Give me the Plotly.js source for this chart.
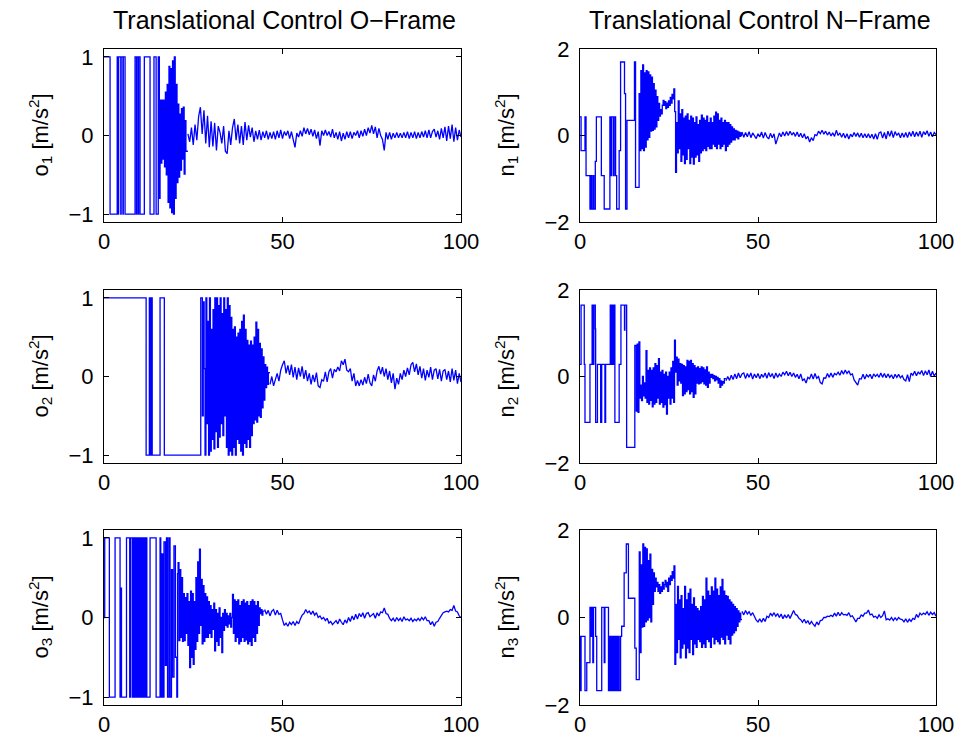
<!DOCTYPE html>
<html>
<head>
<meta charset="utf-8">
<script src="https://cdn.plot.ly/plotly-3.0.1.min.js"></script>
<style>
html,body{margin:0;padding:0;background:#fff;}
#chart{width:959px;height:743px;}
</style>
</head>
<body>
<div id="chart"></div>
<script>
// ---------- DATA ----------
const OSC_DT = 0.25;   // sample spacing of the oscillating section (s)
const TAIL_DT = 0.5;   // sample spacing of the settled section (s)

// o1
const o1StepT = [0,1.7,3.7,4.0,4.1,4.7,4.8,5.3,5.4,5.9,8.7,9.1,9.2,9.6,9.7,10.1,11.3,12.9,14.0,14.6,15.2,15.5];
const o1StepV = [1,-1,1,-1,1,-1,1,-1,1,-1,1,-1,1,-1,1,-1,1,-1,1,-1,1,-0.8];
const o1OscStart = 15.7;
const o1Osc = [0.45,-0.35,0.45,-0.3,0.45,-0.4,0.55,-0.5,0.65,-0.85,0.88,-0.92,0.85,-0.98,0.95,-1.0,1.0,-0.8,0.65,-0.6,0.4,-0.53,0.27,-0.44,0.34,-0.3,0.36,-0.49,0.19,-0.2];
const o1TailStart = 23.5;
const o1Tail = [0.02,-0.08,0.1,-0.12,0.14,-0.06,0.24,0.36,0.02,0.32,
 -0.1,0.25,-0.15,0.18,-0.14,0.16,-0.19,0.12,0.04,-0.1,
 0.12,-0.2,-0.23,0.06,-0.12,0.1,0.21,-0.06,0.14,-0.1,
 0.12,-0.12,0.17,-0.06,0.13,-0.02,0.1,-0.08,0.06,-0.05,
 0.07,-0.06,0.05,-0.03,0.06,-0.05,0.04,-0.04,0.05,-0.05,
 0.06,-0.03,0.07,-0.04,0.05,0.0,0.06,-0.04,0.05,-0.06,
 -0.15,0.03,-0.02,0.06,-0.01,0.1,0.02,0.09,0.01,0.08,
 -0.01,0.07,-0.04,0.05,-0.13,0.06,0.0,0.07,0.0,0.05,
 -0.02,0.08,-0.03,0.04,-0.05,0.05,-0.07,0.03,-0.05,0.05,
 -0.03,0.05,-0.04,0.04,0.0,0.06,-0.03,0.06,-0.01,0.08,
 0.0,0.1,0.03,0.13,0.02,0.11,-0.03,0.09,0.0,-0.05,
 -0.19,0.04,-0.05,0.04,-0.05,0.03,-0.03,0.04,-0.03,0.03,
 -0.03,0.04,-0.03,0.05,-0.04,0.04,-0.03,0.05,-0.04,0.04,
 -0.03,0.05,-0.02,0.06,-0.03,0.07,-0.03,0.05,0.08,-0.02,
 0.06,-0.05,0.09,-0.03,0.11,-0.07,0.12,-0.04,0.14,-0.08,
 0.1,-0.06,0.07,-0.02];

// n1
const n1StepT = [0,0.3,1.4,1.7,2.8,3.1,3.3,3.7,3.9,4.3,4.6,6.0,6.8,8.4,8.7,8.9,9.4,9.6,10.0,10.3,11.0,11.4,12.5,12.8,13.2,15.3,15.6];
const n1StepV = [0.43,-0.35,0.43,-0.93,-1.7,-0.93,-1.7,-0.93,-1.7,-0.6,0.43,-0.93,-1.7,0.43,-0.93,0.43,-0.93,0.43,-0.93,-1.7,-0.35,1.7,0.97,-1.7,0.35,1.7,-1.2];
const n1OscStart = 16.6;
const n1Osc = [0.97,-0.35,1.5,-0.3, 1.63,-0.35,1.45,-0.27, 1.5,-0.1,1.47,-0.04, 1.4,0.1,1.35,0.12,
 1.2,0.15,1.05,0.2, 0.9,0.35,0.74,0.45, 0.6,0.5,0.7,0.81, 0.7,0.78,0.62,0.75,
 0.65,0.8,0.7,0.88, 0.75,0.95,0.85,1.08, 0.55,-0.85,0.3,-0.4, 0.8,-0.3,0.5,-0.6,
 0.6,-0.45,0.4,-0.65, 0.45,-0.55,0.5,-0.3, 0.35,-0.65,0.45,-0.5, 0.4,-0.66,0.3,-0.5,
 0.43,-0.45,0.25,-0.6, 0.35,-0.4,0.47,-0.35, 0.4,-0.3,0.35,-0.35, 0.45,-0.25,0.3,-0.3,
 0.4,-0.3,0.3,-0.2, 0.45,-0.25,0.54,-0.3, 0.5,-0.2,0.35,-0.3, 0.4,-0.25,0.3,-0.2,
 0.35,-0.35,0.3,-0.25, 0.3,-0.2,0.25,-0.15, 0.2,-0.1,0.15,-0.1, 0.12,-0.05,0.1,-0.08,
 0.08,-0.02,0.06,0.0];
const n1TailStart = 45.5;
const n1Tail = [0.08,-0.04,0.07,-0.03,0.09,-0.05,0.06,-0.02,-0.07,0.04,
 -0.03,0.08,-0.06,0.07,-0.03,-0.08,0.05,-0.05,0.04,-0.2,
 -0.06,0.06,-0.03,0.08,-0.01,0.09,0.0,0.1,0.01,0.07,
 -0.02,0.08,-0.03,0.05,-0.05,0.04,-0.08,-0.02,-0.15,-0.05,
 -0.12,0.02,0.0,0.1,0.04,0.12,0.03,0.1,0.01,0.08,
 -0.01,0.06,-0.02,0.12,0.0,0.06,-0.04,0.05,-0.06,0.04,
 -0.08,0.03,-0.03,0.07,-0.02,0.06,-0.04,0.05,-0.05,0.04,
 -0.05,0.04,-0.06,0.03,-0.08,0.04,-0.09,0.06,0.08,-0.06,
 0.07,-0.08,0.1,-0.02,0.11,-0.05,0.09,0.0,0.06,-0.05,
 0.06,-0.04,0.07,-0.05,0.08,-0.02,0.1,-0.03,0.08,-0.02,
 0.1,-0.04,0.09,0.02,0.11,-0.02,0.08,-0.03,0.07,0.02];

// o2
const o2StepT = [0,11.8,12.7,13.0,13.3,13.5,15.7,16.9,27.1];
const o2StepV = [1,-1,1,-1,1,-1,1,-1,1];
const o2OscStart = 27.3;
const o2Osc = [1.0,-0.5,0.95,0.1, -1.0,1.0,-0.6,0.7, -1.0,1.0,-0.95,0.6, -0.8,0.85,-0.92,1.0,
 -0.7,1.0,-0.9,0.9, -0.77,1.0,-0.6,0.8, -0.75,1.0,-0.5,0.85, -0.9,1.0,-1.0,0.9,
 -0.95,0.75,-1.0,0.6, -0.9,0.63,-1.0,0.5, -0.8,0.55,-0.85,0.6, -0.95,0.7,-1.0,0.78,
 -0.85,0.6,-0.9,0.46, -0.8,0.4,-0.9,0.45, -0.75,0.4,-0.6,0.5, -0.55,0.69,-0.58,0.6,
 -0.5,0.42,-0.52,0.35, -0.4,0.25,-0.3,0.15, -0.14,0.12,-0.1,0.05];
const o2TailStart = 46.5;
const o2Tail = [-0.1,0.0,-0.12,-0.02,0.04,-0.06,0.08,0.15,0.2,0.04,
 0.14,0.02,0.15,-0.01,0.12,-0.04,0.11,0.0,0.13,-0.03,
 0.08,-0.06,0.04,-0.1,0.02,-0.07,0.05,-0.12,-0.14,-0.04,
 -0.06,0.06,-0.07,0.06,0.1,-0.02,0.09,0.06,0.12,0.07,
 0.2,0.15,0.22,0.08,0.06,0.1,-0.06,0.04,-0.12,-0.05,
 -0.12,-0.04,-0.11,-0.01,-0.09,0.03,-0.08,-0.12,0.02,-0.06,
 0.07,0.13,0.03,0.12,0.0,0.1,-0.04,0.07,-0.08,0.04,
 -0.16,-0.02,-0.1,0.04,-0.04,0.08,0.0,0.11,0.02,0.15,
 0.18,0.06,0.16,0.02,0.13,-0.02,0.1,-0.05,0.08,-0.01,
 0.12,-0.04,0.08,0.1,-0.03,0.09,-0.06,0.07,0.09,-0.04,
 0.07,-0.07,0.1,-0.05,0.08,-0.09,0.04,-0.07];

// n2
const n2StepT = [0,0.3,1.2,1.4,2.8,3.4,3.7,3.9,4.3,4.4,4.9,5.8,6.1,7.0,7.2,8.5,8.8,9.0,9.3,9.6,9.8,11.0,11.5,12.5,12.6,13.1,15.4];
const n2StepV = [0.28,1.65,0.28,-1.06,0.28,1.65,0.28,1.65,1.1,-1.06,0.28,-1.06,0.28,-1.06,0.28,1.65,0.28,1.65,0.28,1.65,-1.06,0.28,1.65,1.07,1.65,-1.64,0.72];
const n2OscStart = 15.8;
const n2Osc = [-0.8,0.75,-0.83,0.8, -0.5,-0.2,-0.56,0.0, -0.45,-0.15,-0.5,0.6, -0.6,0.14,-0.64,0.2,
 -0.55,0.14,-0.7,0.2, -0.64,0.3,-0.6,0.25, -0.5,0.41,-0.64,0.1, -0.6,0.14,-0.71,0.05,
 -0.65,0.1,-0.87,0.0, -0.5,0.1,-0.64,0.2, -0.5,0.35,-0.6,0.84, 0.1,0.45,-0.2,0.4,
 -0.1,0.3,-0.15,0.28, -0.44,0.25,-0.4,0.22, -0.35,0.37,-0.3,0.35, -0.4,0.37,-0.35,0.3,
 -0.48,0.25,-0.4,0.2, -0.15,0.22,-0.17,0.18, -0.15,0.22,-0.12,0.2, -0.17,0.15,-0.2,0.22,
 -0.25,0.1,-0.15,0.05, -0.02,0.05,-0.05,0.02, -0.1,0.0,-0.08,-0.02, -0.15,-0.05,-0.25,-0.1,
 -0.2,-0.12,-0.15,-0.05];
const n2TailStart = 41.0;
const n2Tail = [-0.1,0.0,-0.09,0.03,-0.07,0.06,-0.05,0.08,-0.03,0.06,
 0.08,-0.05,0.07,-0.02,0.08,-0.06,0.06,-0.03,0.07,-0.05,
 0.05,-0.02,0.08,-0.04,0.09,-0.01,0.07,-0.05,0.08,-0.02,
 0.06,0.0,0.1,0.04,0.12,0.02,0.1,0.0,0.08,-0.02,
 0.05,-0.05,0.06,-0.09,-0.06,-0.15,-0.02,-0.05,0.06,-0.06,
 0.07,-0.04,0.0,-0.14,-0.17,-0.03,-0.04,0.07,-0.02,0.08,
 -0.02,0.07,0.04,0.1,0.03,0.14,0.05,0.15,0.07,0.13,
 0.04,0.06,-0.08,-0.13,-0.2,-0.05,-0.06,0.05,-0.06,0.04,
 -0.01,0.05,-0.05,0.06,0.0,0.05,-0.02,0.08,-0.02,0.07,
 -0.03,0.06,-0.02,0.04,-0.05,0.05,-0.02,0.05,-0.03,0.02,
 -0.07,-0.1,0.04,-0.12,0.08,0.03,0.12,0.02,0.1,0.06,
 0.14,0.02,0.13,0.04,0.15,0.0,0.12,0.01,0.08];

// o3
const o3StepT = [0,0.2,1.5,3.1,4.5,4.7,4.9,6.3,7.2,7.4,7.9,8.2,8.5,8.7,9.0,9.2,9.5,9.7,10.0,10.2,10.5,10.7,11.0,11.2,11.5,11.7,12.0,12.9,14.6,15.7,15.9,16.2,16.5,16.8,17.2,17.5,17.8,18.2,18.5,18.9,19.2,19.6,20.0,20.4,20.6];
const o3StepV = [0,1,-1,1,-1,0.37,-1,1,-1,1,-1,1,-1,1,-1,1,-1,1,-1,1,-1,1,-1,1,-1,1,-1,1,-1,1,-1,0.8,-1,0.95,-0.6,1,-1,1,-1,0.6,-0.75,0.9,-0.5,-1,0.55];
const o3OscStart = 20.75;
const o3Osc = [0.69,-0.29,0.6,-0.25, 0.5,-0.3,0.3,-0.29, 0.25,-0.2,0.3,-0.35, 0.2,-0.63,0.33,-0.5,
 0.3,-0.59,0.2,-0.4, 0.5,-0.3,0.7,-0.2, 0.86,-0.1,0.48,-0.33, 0.4,-0.3,0.3,-0.25,
 0.26,-0.25,0.2,-0.2, 0.15,-0.25,0.1,-0.15, 0.18,-0.42,0.1,-0.3, 0.05,-0.35,0.12,-0.25,
 0.0,-0.44,0.05,-0.16, 0.1,-0.1,0.05,-0.12, 0.02,-0.08,0.05,-0.12, 0.0,0.29,-0.2,0.22,
 -0.3,0.2,-0.25,0.22, -0.33,0.15,-0.3,0.2, -0.25,0.22,-0.3,0.18, -0.28,0.2,-0.33,0.15,
 -0.3,0.2,-0.35,0.22, -0.25,0.2,-0.3,0.15, -0.2,0.2,-0.1,0.12, 0.05,0.1,0.03,0.08];
const o3TailStart = 45.0;
const o3Tail = [0.1,0.04,0.09,0.02,0.08,0.1,0.03,0.09,0.04,0.05,
 -0.03,-0.1,-0.07,-0.11,-0.06,-0.09,-0.05,-0.1,-0.05,-0.08,
 -0.02,0.03,0.05,0.1,0.06,0.08,0.04,0.08,0.03,0.06,
 0.0,0.02,-0.02,0.0,-0.04,-0.01,-0.07,-0.05,-0.09,-0.06,
 -0.04,-0.08,-0.02,-0.06,-0.09,-0.03,-0.07,0.0,-0.05,0.02,
 -0.03,0.04,-0.02,0.05,0.01,0.06,-0.01,0.05,0.06,0.01,
 0.03,0.05,-0.01,0.06,0.02,0.07,0.06,0.12,0.05,0.04,
 -0.01,-0.04,-0.01,-0.05,0.0,-0.04,-0.01,-0.05,0.01,-0.03,
 -0.02,-0.04,-0.01,-0.05,-0.02,-0.04,-0.01,-0.04,0.0,-0.03,
 0.01,-0.04,-0.04,-0.09,-0.05,-0.11,-0.06,-0.05,-0.01,0.02,
 0.06,0.07,0.08,0.07,0.1,0.09,0.15,0.08,0.07,0.02,
 0.0];

// n3
const n3StepT = [0,0.1,0.3,1.4,1.9,2.8,3.1,3.3,3.6,3.8,4.4,4.7,6.1,6.8,7.0,8.0,8.3,8.6,8.9,9.2,9.5,9.8,10.1,10.4,10.7,11.0,11.4,11.7,12.4,13.0,13.6,15.4,15.8];
const n3StepV = [-0.43,-1.67,-0.43,-1.67,-1.03,0.23,-0.43,0.23,-1.03,0.23,-0.43,-1.67,0.23,-1.03,0.23,-1.67,-0.43,-1.67,-0.43,-1.67,-0.43,-1.67,-0.43,-1.67,-0.43,-1.67,-0.43,-0.2,1.02,1.68,0.44,-0.7,-1.42];
const n3OscStart = 16.4;
const n3Osc = [-1.42,1.5,-0.8,1.2, -0.22,1.68,-0.2,1.6, -0.1,1.57,-0.06,1.3, 0.0,1.45,-0.1,1.1,
 0.3,1.02,0.6,0.9, 0.7,0.8,0.6,0.75, 0.55,0.7,0.6,0.8, 0.65,0.75,0.85,0.7,
 0.8,0.6,0.9,0.75, 0.95,0.85,1.05,0.9, 1.18,-1.07,0.3,-0.8, 0.71,-0.5,0.4,-0.92,
 0.5,-0.7,0.2,-0.6, 0.71,-0.92,0.4,-0.7, 0.55,-0.8,0.65,-0.5, 0.3,-0.85,0.45,-0.6,
 0.25,-0.68,0.2,-0.5, 0.15,-0.55,0.25,-0.68, 0.48,-0.6,0.4,-0.68, 0.9,-0.5,0.6,-0.55,
 0.5,-0.68,0.7,-0.45, 0.6,-0.6,0.9,-0.5, 0.65,-0.55,0.5,-0.6, 0.7,-0.45,0.87,-0.5,
 0.6,-0.6,0.5,-0.4, 0.48,-0.5,0.4,-0.6, 0.35,-0.4,0.3,-0.35, 0.25,-0.3,0.2,-0.2,
 0.15,-0.1,0.1,-0.05];
const n3TailStart = 45.5;
const n3Tail = [0.14,0.06,0.16,0.08,0.13,0.05,0.11,0.03,-0.06,-0.1,
 -0.03,-0.11,-0.02,-0.09,0.03,0.0,0.1,0.04,0.11,0.03,
 0.09,0.0,0.08,-0.03,0.06,-0.01,0.07,-0.02,0.08,0.16,
 0.07,0.05,-0.02,-0.05,-0.11,-0.04,-0.13,-0.07,-0.16,-0.09,
 -0.15,-0.2,-0.1,-0.17,-0.07,-0.06,0.0,0.0,0.03,0.02,
 0.05,0.02,0.1,0.03,0.12,0.04,0.11,0.06,0.07,0.05,
 0.11,0.02,0.04,-0.04,-0.1,-0.02,-0.02,0.06,0.03,0.1,
 0.1,0.17,0.06,0.08,0.01,0.03,-0.02,0.06,0.0,0.04,
 0.15,-0.05,-0.03,-0.06,0.0,-0.07,-0.01,-0.06,0.0,-0.04,
 -0.05,-0.1,-0.03,-0.11,-0.04,-0.09,-0.02,-0.04,0.07,0.0,
 0.1,0.06,0.1,0.07,0.13,0.05,0.12,0.07,0.11,0.03];

const titleLeft = 'Translational Control O\u2212Frame';
const titleRight = 'Translational Control N\u2212Frame';
const yLabels = ['o<sub>1</sub> [m/s<sup>2</sup>]','n<sub>1</sub> [m/s<sup>2</sup>]',
                 'o<sub>2</sub> [m/s<sup>2</sup>]','n<sub>2</sub> [m/s<sup>2</sup>]',
                 'o<sub>3</sub> [m/s<sup>2</sup>]','n<sub>3</sub> [m/s<sup>2</sup>]'];
const xTicks = [0,50,100];
const oTicks = [-1,0,1];
const nTicks = [-2,0,2];

// ---------- BUILD ----------
function build(stepT, stepV, oscStart, osc, tailStart, tail){
  const hx = stepT.slice(), hy = stepV.slice();
  osc.forEach((v,i)=>{ hx.push(+(oscStart + i*OSC_DT).toFixed(3)); hy.push(v); });
  const lx = [], ly = [];
  tail.forEach((v,i)=>{ lx.push(+(tailStart + i*TAIL_DT).toFixed(3)); ly.push(v); });
  // join the settled section onto the held section
  hx.push(lx[0]); hy.push(hy[hy.length-1]);
  return {hx, hy, lx, ly};
}
const series = [
  build(o1StepT,o1StepV,o1OscStart,o1Osc,o1TailStart,o1Tail),
  build(n1StepT,n1StepV,n1OscStart,n1Osc,n1TailStart,n1Tail),
  build(o2StepT,o2StepV,o2OscStart,o2Osc,o2TailStart,o2Tail),
  build(n2StepT,n2StepV,n2OscStart,n2Osc,n2TailStart,n2Tail),
  build(o3StepT,o3StepV,o3OscStart,o3Osc,o3TailStart,o3Tail),
  build(n3StepT,n3StepV,n3OscStart,n3Osc,n3TailStart,n3Tail)
];

const W = 959, H = 743;
const colX = [[104/W, 461/W],[580/W, 936/W]];
const rowY = [[1-222/H, 1-49/H],[1-463/H, 1-290/H],[1-705/H, 1-530/H]];
const FONT = 'Liberation Sans, Arial, Helvetica, sans-serif';
const TICK_SIZE = 22, LABEL_SIZE = 22, TITLE_SIZE = 25;
const LINE_W = 1.3;

const data = [];
const layout = {
  width: W, height: H,
  margin: {l:0,r:0,t:0,b:0},
  paper_bgcolor: '#fff', plot_bgcolor: '#fff',
  showlegend: false,
  font: {family: FONT, size: TICK_SIZE, color: '#000'},
  annotations: []
};

series.forEach((s, i) => {
  const k = i + 1;
  const col = i % 2, row = Math.floor(i / 2);
  const xa = 'x' + (k === 1 ? '' : k), ya = 'y' + (k === 1 ? '' : k);
  data.push({x: s.hx, y: s.hy, xaxis: xa, yaxis: ya, type: 'scatter', mode: 'lines',
    line: {color: '#0000ff', width: LINE_W, shape: 'hv'}, hoverinfo: 'skip'});
  data.push({x: s.lx, y: s.ly, xaxis: xa, yaxis: ya, type: 'scatter', mode: 'lines',
    line: {color: '#0000ff', width: LINE_W, shape: 'linear'}, hoverinfo: 'skip'});
  const axCommon = {showline: true, linecolor: '#000', linewidth: 1, mirror: 'ticks',
    ticks: 'inside', ticklen: 5, tickcolor: '#000', tickwidth: 1, showgrid: false, zeroline: false,
    tickfont: {family: FONT, size: TICK_SIZE, color: '#000'}, tickmode: 'array'};
  layout['xaxis' + (k === 1 ? '' : k)] = Object.assign({}, axCommon, {
    domain: colX[col], anchor: ya, range: [0, 100], tickvals: xTicks, ticktext: xTicks.map(String),
    ticklabelstandoff: 0});
  const yt = col === 0 ? oTicks : nTicks;
  layout['yaxis' + (k === 1 ? '' : k)] = Object.assign({}, axCommon, {
    domain: rowY[row], anchor: xa, range: col === 0 ? [-1.1, 1.1] : [-2, 2],
    tickvals: yt, ticktext: yt.map(v => v < 0 ? '\u2212' + Math.abs(v) : String(v)),
    ticklabelstandoff: 5});
  layout.annotations.push({text: yLabels[i], xref: 'paper', yref: 'paper',
    x: (col === 0 ? 40 : 506) / W, y: (rowY[row][0] + rowY[row][1]) / 2,
    xanchor: 'center', yanchor: 'middle', textangle: -90, showarrow: false,
    font: {family: FONT, size: LABEL_SIZE, color: '#000'}});
});
layout.annotations.push({text: titleLeft, xref: 'paper', yref: 'paper', x: 284/W, y: 1 - 20/H,
  xanchor: 'center', yanchor: 'middle', showarrow: false, font: {family: FONT, size: TITLE_SIZE, color: '#000'}});
layout.annotations.push({text: titleRight, xref: 'paper', yref: 'paper', x: 760/W, y: 1 - 20/H,
  xanchor: 'center', yanchor: 'middle', showarrow: false, font: {family: FONT, size: TITLE_SIZE, color: '#000'}});

Plotly.newPlot('chart', data, layout, {staticPlot: true, displayModeBar: false});
</script>
</body>
</html>
